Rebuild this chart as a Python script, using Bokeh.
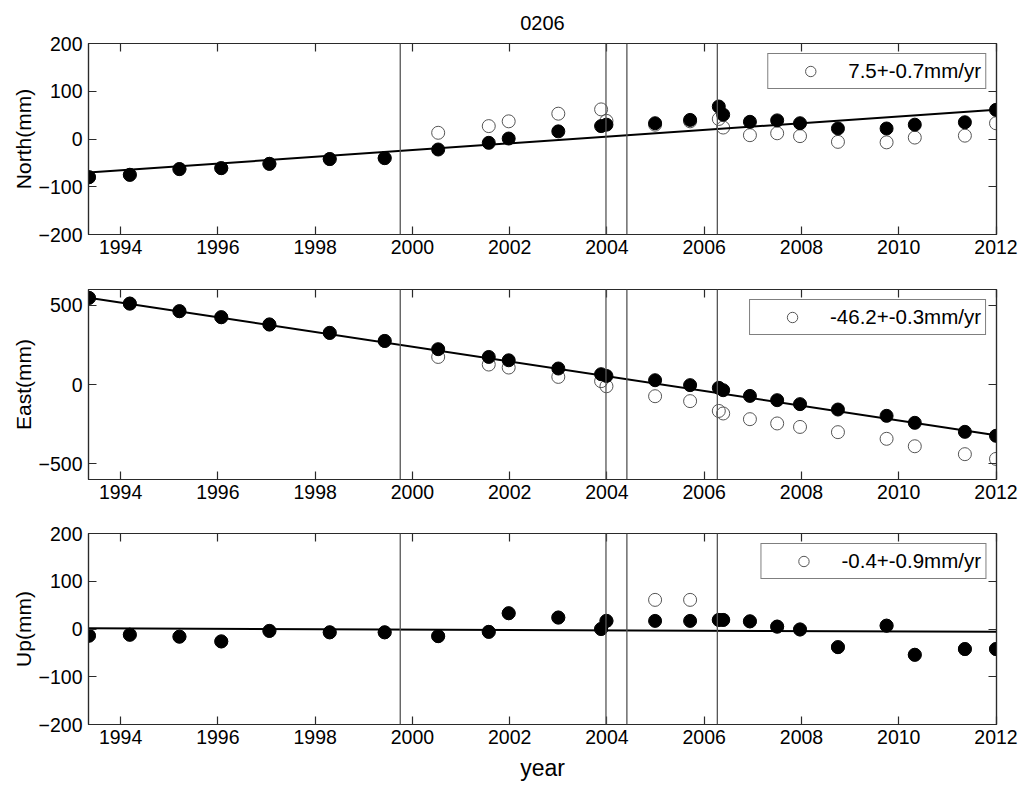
from bokeh.plotting import figure
from bokeh.models import (Range1d, FixedTicker, LinearAxis, Span, Legend, LegendItem,
                          ColumnDataSource)
from bokeh.layouts import column
from bokeh.embed import file_html
from bokeh.resources import INLINE

# ---------------- data ----------------
epochs = [1993.35, 1994.19, 1995.21, 1996.07, 1997.06, 1998.30, 1999.43, 2000.53,
          2001.57, 2001.98, 2003.00, 2003.88, 2003.99, 2004.99, 2005.71, 2006.30,
          2006.39, 2006.94, 2007.50, 2007.97, 2008.75, 2009.75, 2010.33, 2011.36, 2012.00]

north_corr = [-80, -75, -63, -61, -52, -42, -40, -22, -8, 1, 16, 27, 30, 33, 40, 68,
              51, 36, 39, 33, 22, 22, 30, 35, 61]
north_raw = [-80, -75, -63, -61, -52, -42, -40, 13, 27, 37, 53, 62, 38, 30, 37, 42,
             24, 8, 12, 6, -6, -7, 3, 7, 33]

east_corr = [547, 511, 463, 425, 379, 326, 275, 223, 174, 153, 101, 65, 54, 27, -4, -21,
             -36, -72, -99, -124, -158, -198, -242, -299, -324]
east_raw = [547, 511, 463, 425, 379, 326, 275, 174, 126, 107, 48, 21, -11, -74, -105, -167,
            -183, -219, -246, -268, -301, -343, -390, -440, -470]

up_corr = [-14, -12, -16, -26, -4, -7, -7, -15, -6, 33, 24, 0, 17, 17, 17, 19,
           19, 16, 5, -1, -38, 7, -54, -42, -42]
up_raw = [-14, -12, -16, -26, -4, -7, -7, -15, -6, 33, 24, 0, 17, 61, 61, 19,
          19, 16, 5, -1, -38, 7, -54, -42, -42]

fit_years = [1993.34, 2012.0]
north_fit = [-70, 61]
east_fit = [548, -320]
up_fit = [1.5, -6]

event_years = [1999.75, 2003.98, 2004.41, 2006.27]

x_ticks = [1994, 1996, 1998, 2000, 2002, 2004, 2006, 2008, 2010, 2012]
north_ticks = [-200, -100, 0, 100, 200]
east_ticks = [-500, 0, 500]
up_ticks = [-200, -100, 0, 100, 200]

panel_titles = ["North(mm)", "East(mm)", "Up(mm)"]
legend_labels = ["7.5+-0.7mm/yr", "-46.2+-0.3mm/yr", "-0.4+-0.9mm/yr"]
station = "0206"
x_label = "year"

FONT = "Liberation Sans"
FRAME = "#2a2a2a"
TEXT = "#000000"


def make_panel(raw, corr, fit, yticks, yr, ylabel, leg, height, top, bottom,
               title=None, xlabel=None):
    p = figure(width=1018, height=height, output_backend="svg", toolbar_location=None,
               x_range=Range1d(1993.34, 2012.01), y_range=Range1d(*yr),
               min_border_left=88, min_border_right=22, min_border_top=top,
               min_border_bottom=bottom, background_fill_color="white",
               border_fill_color="white")
    p.grid.visible = False
    p.outline_line_color = FRAME
    p.outline_line_width = 1.2

    top_ax = LinearAxis(ticker=FixedTicker(ticks=x_ticks))
    p.add_layout(top_ax, "above")
    p.add_layout(LinearAxis(ticker=FixedTicker(ticks=yticks)), "right")

    p.xaxis.ticker = FixedTicker(ticks=x_ticks)
    p.yaxis.ticker = FixedTicker(ticks=yticks)
    for ax in p.xaxis + p.yaxis:
        ax.major_tick_in = 8
        ax.major_tick_out = 0
        ax.minor_tick_line_color = None
        ax.axis_line_color = FRAME
        ax.axis_line_width = 1.2
        ax.major_tick_line_color = FRAME
        ax.major_tick_line_width = 1.2
        ax.major_label_text_font = FONT
        ax.major_label_text_font_size = "19.5px"
        ax.major_label_text_color = TEXT
    # the top/right axes only carry inward ticks, no tick labels
    for ax in (top_ax, p.right[-1]):
        ax.major_label_text_color = None
        ax.major_label_text_font_size = "1px"
        ax.major_label_standoff = 0

    if title:
        # station name shown centred above the frame
        top_ax.axis_label = title
        top_ax.axis_label_text_font = FONT
        top_ax.axis_label_text_font_size = "20px"
        top_ax.axis_label_text_font_style = "normal"
        top_ax.axis_label_text_color = TEXT
        top_ax.axis_label_standoff = 14

    p.below[0].major_label_standoff = 5
    p.left[0].major_label_standoff = 6
    p.left[0].axis_label = ylabel
    p.left[0].axis_label_text_font = FONT
    p.left[0].axis_label_text_font_size = "21px"
    p.left[0].axis_label_text_font_style = "normal"
    p.left[0].axis_label_text_color = TEXT
    p.left[0].axis_label_standoff = 1
    if xlabel:
        p.below[0].axis_label = xlabel
        p.below[0].axis_label_text_font = FONT
        p.below[0].axis_label_text_font_size = "23px"
        p.below[0].axis_label_text_font_style = "normal"
        p.below[0].axis_label_text_color = TEXT
        p.below[0].axis_label_standoff = 8

    for ev in event_years:
        p.add_layout(Span(location=ev, dimension="height", line_color="#555555",
                          line_width=1.3))

    src = ColumnDataSource(dict(t=epochs, raw=raw, corr=corr))
    open_r = p.scatter("t", "raw", source=src, size=13, fill_color=None,
                       line_color="#555555", line_width=1)
    p.line(fit_years, fit, line_color="black", line_width=2)
    p.scatter("t", "corr", source=src, size=13, fill_color="black",
              line_color="black")

    legend = Legend(items=[LegendItem(label=leg, renderers=[open_r])],
                    location="top_right", margin=10, padding=4,
                    glyph_width=76, glyph_height=26, label_standoff=0,
                    label_text_font=FONT, label_text_font_size="20.5px",
                    label_text_color=TEXT,
                    border_line_color="black", border_line_width=1,
                    background_fill_color="white", background_fill_alpha=1)
    p.add_layout(legend)
    return p


p1 = make_panel(north_raw, north_corr, north_fit, north_ticks, (-200, 200),
                panel_titles[0], legend_labels[0], 264, 43, 30, title=station)
p2 = make_panel(east_raw, east_corr, east_fit, east_ticks, (-600, 600),
                panel_titles[1], legend_labels[1], 245, 25, 30)
p3 = make_panel(up_raw, up_corr, up_fit, up_ticks, (-200, 200),
                panel_titles[2], legend_labels[2], 275, 24, 60, xlabel=x_label)

layout = column(p1, p2, p3, spacing=0)
open("out.html", "w").write(file_html(layout, INLINE))
